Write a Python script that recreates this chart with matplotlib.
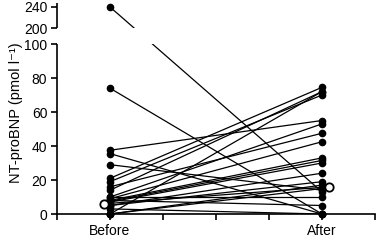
import matplotlib
matplotlib.use("Agg")
import matplotlib.pyplot as plt
import numpy as np

plt.rcParams['font.family'] = ['Liberation Sans', 'DejaVu Sans']

# paired NT-proBNP values (pmol/l)
before = [240, 74, 37.5, 35.5, 29, 21, 19, 16, 14, 10, 9, 8, 7.5, 7, 5, 5, 0, 0, 0, 10, 8, 3, 0]
after = [13, 0, 55, 0, 14, 74.5, 70, 47.5, 72, 53, 42.5, 33, 31.5, 30, 24, 19, 72, 17, 15, 10, 5, 0, 0]
# subject shown with open symbols
open_before = [6]
open_after = [16]

yticks = [0, 20, 40, 60, 80, 100, 200, 240]
xlabels = ['Before', 'After']

# broken axis: 0-100 linear, then 200-240 squeezed above a small gap
px = 1.7            # pixels per unit, lower part
gap = 16 / px
upper_scale = (21 / 40) / px

def t(v):
    v = np.asarray(v, dtype=float)
    return np.where(v <= 100, v, 100 + gap + (v - 200) * upper_scale)

fig = plt.figure(figsize=(3.79, 2.44), dpi=100)
ax = fig.add_axes([57 / 379, 1 - 214 / 244, (375 - 57) / 379, (214 - 3) / 244])

x_b, x_a = 1, 5
for b, a in zip(before, after):
    ax.plot([x_b, x_a], t([b, a]), color='black', lw=0.9, zorder=2)
ax.plot([x_b] * len(before), t(before), 'o', color='black', ms=4.5,
        clip_on=False, zorder=4)
ax.plot([x_a] * len(after), t(after), 'o', color='black', ms=4.5,
        clip_on=False, zorder=4)

# open symbols, slightly offset
ax.plot([x_b - 0.11, x_a + 0.13], t([open_before[0], open_after[0]]),
        color='black', lw=0.9, zorder=2)
ax.plot([x_b - 0.11], t(open_before), 'o', mfc='white', mec='black',
        mew=1.3, ms=6, zorder=5)
ax.plot([x_a + 0.13], t(open_after), 'o', mfc='white', mec='black',
        mew=1.3, ms=6, zorder=5)

top = float(t(240)) + 4 / px
ax.set_xlim(0, 6)
ax.set_ylim(0, top)

# hide the lines inside the break
ax.axhspan(100, float(t(200)), xmin=0, xmax=1, color='white', zorder=3, lw=0)

for s in ['top', 'right']:
    ax.spines[s].set_visible(False)
ax.spines['left'].set_bounds(0, 100)
ax.spines['left'].set_linewidth(1.2)
ax.spines['bottom'].set_linewidth(1.2)
ax.plot([0, 0], [float(t(200)), top], color='black', lw=1.2,
        clip_on=False, zorder=6, solid_capstyle='butt')

ax.set_yticks(t(yticks))
ax.set_yticklabels([str(v) for v in yticks])
ax.set_xticks(range(7))
ax.set_xticklabels(['', xlabels[0], '', '', '', xlabels[1], ''])
ax.tick_params(direction='out', length=4, width=1.2, labelsize=10, pad=3)
ax.set_ylabel('NT-proBNP (pmol l\u207b\u00b9)', fontsize=10.5, va='center')
ax.yaxis.set_label_coords(-0.13, 0.48)

fig.savefig('out.png', dpi=100)
